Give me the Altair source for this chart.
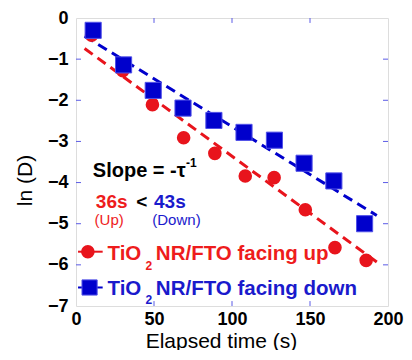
import altair as alt
import pandas as pd

# ---- data ----
time_up = [10, 30, 49, 69, 89, 108.5, 127, 147, 166, 186]
lnD_up = [-0.42, -1.28, -2.11, -2.91, -3.29, -3.84, -3.88, -4.66, -5.58, -5.89]
time_down = [11, 30.5, 49.5, 68.6, 88.4, 107.7, 127.2, 146.2, 165.3, 185]
lnD_down = [-0.30, -1.14, -1.76, -2.19, -2.49, -2.78, -2.97, -3.53, -3.96, -5.00]
fit_time = [5.5, 192.8]
fit_up = [-0.74, -5.93]
fit_down = [-0.44, -4.80]

x_ticks = [0, 50, 100, 150, 200]
y_ticks = [0, -1, -2, -3, -4, -5, -6, -7]
x_inner = [50, 100, 150]
y_inner = [-1, -2, -3, -4, -5, -6]

# annotation texts
slope_text = ["Slope = -τ"]
slope_x = [10.8]
slope_y = [-3.86]
big_texts = ["36s", "<", "43s"]
big_x = [12.7, 38.7, 50.0]
big_y = [-4.61, -4.61, -4.61]
big_col = ["#ee1c1c", "black", "#1a1acc"]
legend_texts = ["TiO", "NR/FTO facing up", "TiO", "NR/FTO facing down"]
legend_x = [20.2, 51.2, 20.2, 51.2]
legend_y = [-5.89, -5.89, -6.74, -6.74]
legend_col = ["#ee1c1c", "#ee1c1c", "#1a1acc", "#1a1acc"]
small_texts = ["-1", "2", "2"]
small_x = [70.5, 44.6, 44.6]
small_y = [-3.62, -6.13, -6.95]
small_col = ["black", "#ee1c1c", "#1a1acc"]
paren_texts = ["(Up)", "(Down)"]
paren_x = [11.9, 48.9]
paren_y = [-5.02, -5.02]
paren_col = ["#ee1c1c", "#1a1acc"]

RED = "#e8141c"
BLUE = "#0000cc"
FONT = "Liberation Sans"

X = alt.Scale(domain=[0, 200], nice=False, zero=False)
Y = alt.Scale(domain=[-7, 0], nice=False, zero=False)

up = pd.DataFrame({"t": time_up, "v": lnD_up})
down = pd.DataFrame({"t": time_down, "v": lnD_down})
fits = pd.DataFrame({"t": fit_time, "up": fit_up, "down": fit_down})

xaxis = alt.Axis(values=x_ticks, title="Elapsed time (s)", grid=False, ticks=False, domain=False,
                 labelFont=FONT, labelFontSize=18, labelFontWeight="bold", labelColor="black",
                 labelPadding=4, titleFont=FONT, titleFontSize=21, titleFontWeight="normal",
                 titleColor="black", titleX=145, titleY=41, titleBaseline="alphabetic",
                 titleAlign="center", labelFlush=False)
yaxis = alt.Axis(values=y_ticks, title="ln (D)", grid=False, ticks=False, domain=False,
                 labelFont=FONT, labelFontSize=18, labelFontWeight="bold", labelColor="black",
                 labelPadding=8, titleFont=FONT, titleFontSize=21, titleFontWeight="normal",
                 titleColor="black", titleX=-51, titleY=162, titleBaseline="middle",
                 titleAlign="center", titleAngle=-90, labelFlush=False)

# inner ticks (from tick arrays, through scales)
TX = 3.2   # x units ~ 5px
TY = 0.12  # y units ~ 5px
tick_rows = []
for t in x_inner:
    tick_rows.append({"x": t, "x2": t, "y": -7, "y2": -7 + TY})
    tick_rows.append({"x": t, "x2": t, "y": 0, "y2": -TY})
for t in y_inner:
    tick_rows.append({"x": 0, "x2": TX, "y": t, "y2": t})
    tick_rows.append({"x": 200, "x2": 200 - TX, "y": t, "y2": t})
ticks = alt.Chart(pd.DataFrame(tick_rows)).mark_rule(color="#5b5be6", strokeWidth=1).encode(
    x=alt.X("x:Q", scale=X, axis=xaxis), x2="x2:Q",
    y=alt.Y("y:Q", scale=Y, axis=yaxis), y2="y2:Q")

fit_red = alt.Chart(fits).mark_line(color=RED, strokeWidth=3, strokeDash=[10, 6]).encode(
    x=alt.X("t:Q", scale=X), y=alt.Y("up:Q", scale=Y))
fit_blue = alt.Chart(fits).mark_line(color=BLUE, strokeWidth=3, strokeDash=[10, 6]).encode(
    x=alt.X("t:Q", scale=X), y=alt.Y("down:Q", scale=Y))

pts_red = alt.Chart(up).mark_point(shape="circle", filled=True, size=185, color=RED, opacity=1).encode(
    x=alt.X("t:Q", scale=X), y=alt.Y("v:Q", scale=Y))
pts_blue = alt.Chart(down).mark_point(shape="square", filled=True, size=260, color=BLUE, opacity=1,
                                      stroke="#5050e8", strokeWidth=1).encode(
    x=alt.X("t:Q", scale=X), y=alt.Y("v:Q", scale=Y))

# legend symbols
leg = pd.DataFrame({"x1": [1.3, 1.3], "x2": [17.1, 17.1], "y": [-5.68, -6.55],
                    "px": [7.6, 8.7], "c": [RED, BLUE]})
leg_lines = alt.Chart(leg).mark_rule(strokeWidth=2).encode(
    x=alt.X("x1:Q", scale=X), x2="x2:Q", y=alt.Y("y:Q", scale=Y),
    color=alt.Color("c:N", scale=None))
leg_red = alt.Chart(leg.iloc[[0]]).mark_point(shape="circle", filled=True, size=185, color=RED, opacity=1).encode(
    x=alt.X("px:Q", scale=X), y=alt.Y("y:Q", scale=Y))
leg_blue = alt.Chart(leg.iloc[[1]]).mark_point(shape="square", filled=True, size=230, color=BLUE, opacity=1,
                                                stroke="#5050e8", strokeWidth=1).encode(
    x=alt.X("px:Q", scale=X), y=alt.Y("y:Q", scale=Y))


def text_layer(texts, xs, ys, cols, size, weight):
    df = pd.DataFrame({"txt": texts, "x": xs, "y": ys, "c": cols})
    return alt.Chart(df).mark_text(align="left", baseline="alphabetic", font=FONT,
                                   fontSize=size, fontWeight=weight).encode(
        x=alt.X("x:Q", scale=X), y=alt.Y("y:Q", scale=Y), text="txt:N",
        color=alt.Color("c:N", scale=None))


txt_slope = text_layer(slope_text, slope_x, slope_y, ["black"], 20, "bold")
txt_big = text_layer(big_texts, big_x, big_y, big_col, 19, "bold")
txt_leg = text_layer(legend_texts, legend_x, legend_y, legend_col, 20.5, "bold")
txt_small = text_layer(small_texts, small_x, small_y, small_col, 12, "bold")
txt_paren = text_layer(paren_texts, paren_x, paren_y, paren_col, 15, "normal")

chart = alt.layer(ticks, fit_red, fit_blue, pts_red, pts_blue, leg_lines, leg_red, leg_blue,
                  txt_slope, txt_big, txt_leg, txt_small, txt_paren).properties(
    width=312, height=288, autosize="none",
    padding={"left": 68, "top": 10, "right": 16, "bottom": 44},
).configure_view(stroke="#5b5be6", strokeWidth=1.2).configure(background="white")

chart.save("out.html", embed_options={"renderer": "svg", "actions": False})
